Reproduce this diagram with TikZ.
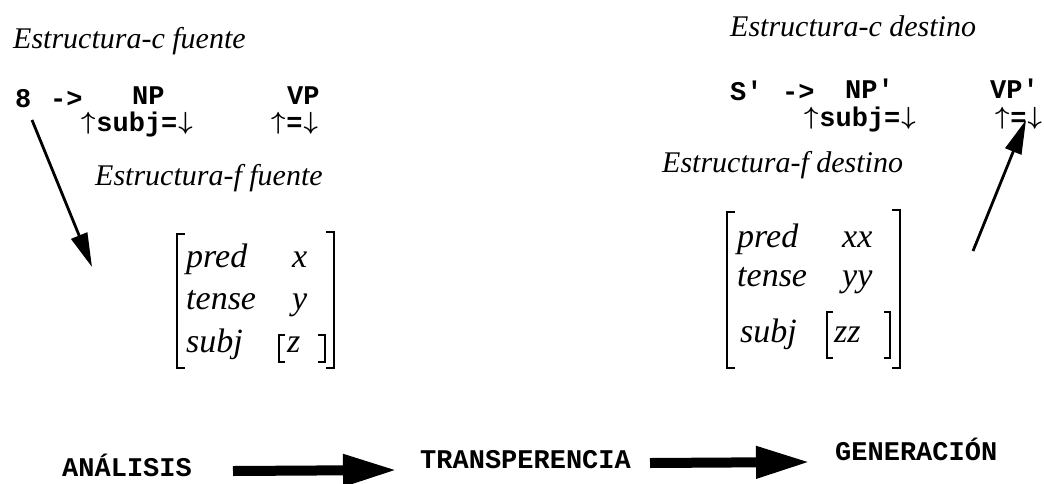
\documentclass[tikz,border=0pt]{standalone}
\usepackage{fontspec}
\setmainfont{Liberation Serif}
\newfontfamily\monob{Liberation Mono}[BoldFont={* Bold}]
\newcommand{\ua}{\makebox[0.6em]{\raisebox{0.04em}{$\boldsymbol{\uparrow}$}}}
\newcommand{\da}{\makebox[0.6em]{\raisebox{0.04em}{$\boldsymbol{\downarrow}$}}}
\usepackage{amsmath}
\usetikzlibrary{arrows.meta,calc}
\tikzset{
  lab/.style={inner sep=0pt, anchor=base west, font=\itshape\fontsize{30}{30}\selectfont},
  mat/.style={inner sep=0pt, anchor=base west, font=\itshape\fontsize{34}{34}\selectfont},
  code/.style={inner sep=0pt, anchor=base west, font=\monob\bfseries\fontsize{27}{27}\selectfont},
  brk/.style={line width=2.6pt},
  thin arrow/.style={line width=2.8pt, -{Triangle[length=34pt,width=17pt]}},
  fat arrow/.style={line width=10pt, -{Triangle[length=54pt,width=30pt]}},
}
\begin{document}
\begin{tikzpicture}[x=1pt,y=-1pt]
\useasboundingbox (0,0) rectangle (1044,483);
% ---------- left: source
\node[lab] (cf) at (13,48) {Estructura-c fuente};
\node[code] (s) at (15,107) {8};
\node[code] (ar1) at (50,107) {->};
\node[code] (np) at (132,104) {NP};
\node[code] (eqnp) at (80,131) {\ua subj=\da};
\node[code] (vp) at (287,104) {VP};
\node[code] (eqvp) at (270,131) {\ua=\da};
\node[lab] (ff) at (95,185) {Estructura-f fuente};
% matrix
\coordinate (lbt) at (177,234);
\coordinate (lbb) at (177,368);
\coordinate (rbt) at (334,232);
\coordinate (rbb) at (334,368);
\draw[brk] ($(lbt)+(8,0)$) -- (lbt) -- (lbb) -- ($(lbb)+(8,0)$);
\draw[brk] ($(rbt)+(-8,0)$) -- (rbt) -- (rbb) -- ($(rbb)+(-8,0)$);
\node[mat] (p1) at (186,267) {pred};
\node[mat] (x1) at (292,267) {x};
\node[mat] (t1) at (186,309) {tense};
\node[mat] (y1) at (292,309) {y};
\node[mat] (s1) at (186,352) {subj};
\node[mat] (z1) at (287,352) {z};
\draw[brk] (285,335) -- (279,335) -- (279,362) -- (285,362);
\draw[brk] (318,335) -- (325,335) -- (325,362) -- (318,362);
% arrow S -> f-structure
\coordinate (la0) at (32,120);
\coordinate (la1) at (92,267);
\draw[thin arrow] (la0) -- (la1);
% ---------- right: target
\node[lab] (cd) at (730,36) {Estructura-c destino};
\node[code] (s2) at (730,100) {S'};
\node[code] (ar2) at (782,100) {->};
\node[code] (np2) at (845,98) {NP'};
\node[code] (eqnp2) at (803,126) {\ua subj=\da};
\node[code] (vp2) at (990,98) {VP'};
\node[code] (eqvp2) at (994,126) {\ua=\da};
\node[lab] (fd) at (662,172) {Estructura-f destino};
\coordinate (lbt2) at (727,212);
\coordinate (lbb2) at (727,368);
\coordinate (rbt2) at (900,210);
\coordinate (rbb2) at (900,368);
\draw[brk] ($(lbt2)+(8,0)$) -- (lbt2) -- (lbb2) -- ($(lbb2)+(8,0)$);
\draw[brk] ($(rbt2)+(-8,0)$) -- (rbt2) -- (rbb2) -- ($(rbb2)+(-8,0)$);
\node[mat] (p2) at (737,247) {pred};
\node[mat] (x2) at (842,247) {xx};
\node[mat] (t2) at (737,286) {tense};
\node[mat] (y2) at (842,286) {yy};
\node[mat] (s3) at (740,342) {subj};
\node[mat] (z2) at (834,342) {zz};
\draw[brk] (833,312) -- (827,312) -- (827,358) -- (833,358);
\draw[brk] (884,312) -- (890,312) -- (890,358) -- (884,358);
\coordinate (ra0) at (973,251);
\coordinate (ra1) at (1026,120);
\draw[thin arrow] (ra0) -- (ra1);
% ---------- bottom pipeline
\node[code] (ana) at (62,476) {ANÁLISIS};
\node[code] (tra) at (420,468) {TRANSPERENCIA};
\node[code] (gen) at (835,460) {GENERACIÓN};
\coordinate (b1) at (233,471);
\coordinate (b2) at (397,470);
\coordinate (b3) at (650,463);
\coordinate (b4) at (810,462);
\draw[fat arrow] (b1) -- (b2);
\draw[fat arrow] (b3) -- (b4);
\end{tikzpicture}
\end{document}
